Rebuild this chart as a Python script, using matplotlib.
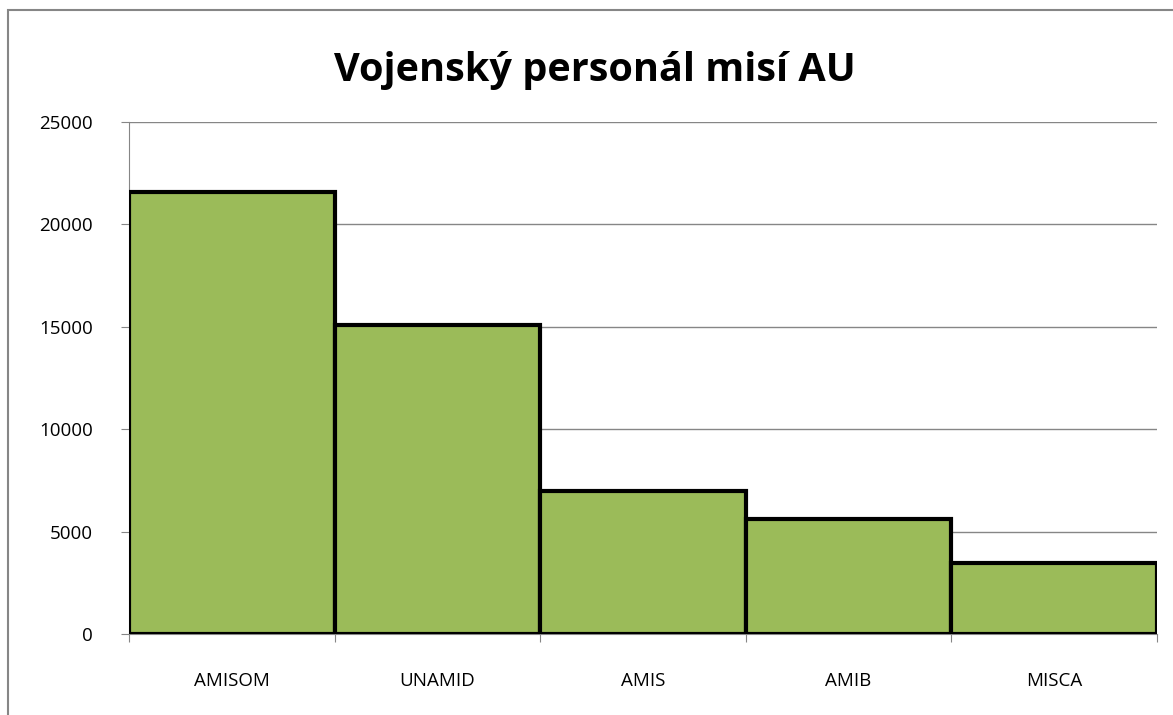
import numpy as np
import matplotlib.pyplot as plt
from matplotlib.patches import Rectangle

missions = ["AMISOM", "UNAMID", "AMIS", "AMIB", "MISCA"]
troops = [21600, 15100, 7000, 5600, 3450]
yticks = [0, 5000, 10000, 15000, 20000, 25000]

plt.rcParams['font.family'] = ['Open Sans', 'DejaVu Sans']

fig = plt.figure(figsize=(11.73, 7.15), dpi=100)
# chart area frame like the spreadsheet original
fig.patches.append(Rectangle((8 / 1173, -0.05), 1.2, 1 - 10 / 715 + 0.05,
                             transform=fig.transFigure, fill=False,
                             edgecolor="#868686", lw=1.5))

ax = fig.add_axes([129 / 1173, 1 - 634 / 715, (1157 - 129) / 1173, (634 - 122) / 715])
x = np.arange(len(missions))
ax.bar(x, troops, width=1.0, color="#9BBB59", edgecolor="black", linewidth=3, zorder=3)

ax.set_xlim(-0.5, len(missions) - 0.5)
ax.set_ylim(0, 25000)
ax.set_yticks(yticks)
ax.set_yticklabels([str(v) for v in yticks], fontsize=13.5)
ax.yaxis.grid(True, color="#868686", lw=1)
ax.set_axisbelow(True)

# category labels centred, ticks on boundaries
ax.set_xticks(np.arange(len(missions) + 1) - 0.5)
ax.set_xticklabels([])
ax.set_xticks(x, minor=True)
ax.set_xticklabels(missions, minor=True, fontsize=13.5)
ax.tick_params(axis="x", which="minor", length=0, pad=27)
ax.tick_params(axis="x", which="major", length=6, color="#868686")
ax.tick_params(axis="y", length=6, color="#868686", pad=20)

for s in ["top", "right"]:
    ax.spines[s].set_visible(False)
for s in ["left", "bottom"]:
    ax.spines[s].set_color("#868686")

fig.text(595 / 1173, 1 - 70 / 715, "Vojenský personál misí AU", ha="center", va="center",
         fontsize=28.5, fontweight="bold")

fig.savefig("out.png", dpi=100)
